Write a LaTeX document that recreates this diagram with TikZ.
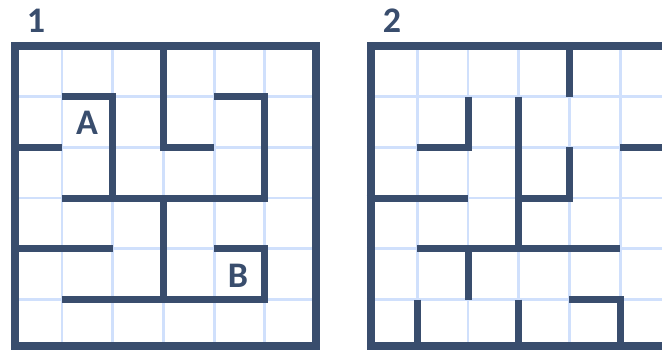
\documentclass[tikz,border=0pt]{standalone}
\usepackage{fontspec}
\newfontfamily\lblfont{Carlito}
\definecolor{navy}{HTML}{394D6D}
\definecolor{gridblue}{HTML}{D0E0FC}
\begin{document}
\begin{tikzpicture}[x=1pt,y=-1pt,
  wall/.style={line width=7pt, draw=navy, line cap=butt, line join=miter},
  border/.style={line width=8pt, draw=navy, line join=miter},
  gridl/.style={line width=2.8pt, draw=gridblue},
  lbl/.style={font=\lblfont\bfseries\fontsize{36}{36}\selectfont, text=navy, inner sep=0pt, anchor=base}]
\useasboundingbox (0,0) rectangle (662,350);
\clip (0,0) rectangle (662,350);
\fill[white] (0,0) rectangle (662,350);

% ---------- Maze 1 ----------
\begin{scope}[shift={(11.3,46)}, x=50.7pt, y=-50.7pt]
  \foreach \i in {1,...,5} {
    \draw[gridl] (\i,0) -- (\i,6);
    \draw[gridl] (0,\i) -- (6,\i);
  }
  \draw[wall] (3,0) -- (3,2) -- (4,2);
  \draw[wall] (1,1) -- (2,1) -- (2,3);
  \draw[wall] (1,3) -- (5,3) -- (5,1) -- (4,1);
  \draw[wall] (0,2) -- (1,2);
  \draw[wall] (3,3) -- (3,5);
  \draw[wall] (0,4) -- (2,4);
  \draw[wall] (1,5) -- (5,5) -- (5,4) -- (4,4);
\end{scope}
\draw[border] (15.3,46.5) rectangle (315.5,346.2);
\node[lbl] (t1) at (36,32.7) {1};
\node[lbl] (a) at (87,135) {A};
\node[lbl] (b) at (238,287.3) {B};

% ---------- Maze 2 ----------
\begin{scope}[shift={(366.6,46)}, x=50.7pt, y=-50.7pt]
  \foreach \i in {1,...,5} {
    \draw[gridl] (\i,0) -- (\i,6);
    \draw[gridl] (0,\i) -- (6,\i);
  }
  \draw[wall] (4,0) -- (4,1);
  \draw[wall] (2,1) -- (2,2) -- (1,2);
  \draw[wall] (3,1) -- (3,4);
  \draw[wall] (4,2) -- (4,3) -- (3,3);
  \draw[wall] (5,2) -- (6,2);
  \draw[wall] (0,3) -- (2,3);
  \draw[wall] (1,4) -- (5,4);
  \draw[wall] (2,4) -- (2,5);
  \draw[wall] (1,5) -- (1,6);
  \draw[wall] (3,5) -- (3,6);
  \draw[wall] (4,5) -- (5,5) -- (5,6);
\end{scope}
\draw[border] (370.6,46.5) rectangle (670.3,346.2);
\node[lbl] (t2) at (392,32.7) {2};
\end{tikzpicture}
\end{document}
